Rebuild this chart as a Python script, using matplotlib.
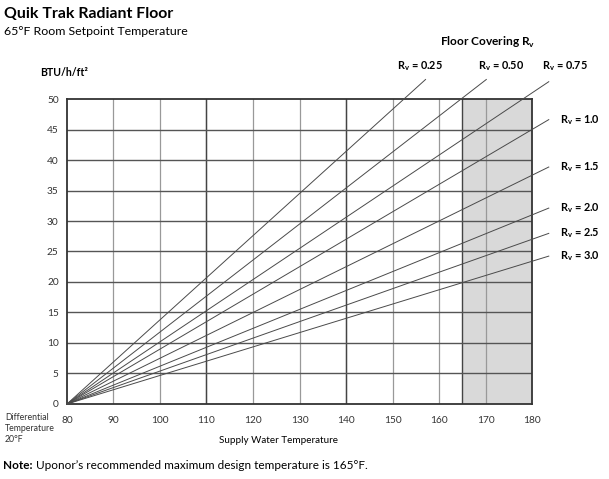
import numpy as np
import matplotlib
matplotlib.use("Agg")
import matplotlib.pyplot as plt

plt.rcParams["font.family"] = ["Lato", "DejaVu Sans"]
plt.rcParams["mathtext.fontset"] = "custom"
plt.rcParams["mathtext.rm"] = "Lato"
plt.rcParams["mathtext.bf"] = "Lato:bold"

# Floor covering R-values and heat output (BTU/h/ft2) at 180F supply water
R_VALUES = ["0.25", "0.50", "0.75", "1.0", "1.5", "2.0", "2.5", "3.0"]
OUTPUT_AT_180 = [69.0, 59.0, 51.0, 45.0, 37.5, 31.0, 27.0, 23.4]

X_TICKS = [80, 90, 100, 110, 120, 130, 140, 150, 160, 170, 180]
Y_TICKS = [0, 5, 10, 15, 20, 25, 30, 35, 40, 45, 50]
HEAVY_X = [110, 140, 165]
MAX_DESIGN_TEMP = 165

X_START = 80
X_END = 180

# layout of lines running outside the plot box
LINE_TOP = 53.2
LINE_RIGHT = 183.6
TOP_LABEL_X = {"0.25": 155.9, "0.50": 173.3, "0.75": 187.1}
TOP_LABEL_Y = 54.3
SIDE_LABEL_X = 186.0

GRID_DARK = "#444444"
GRID_MID = "#555555"
GRID_LIGHT = "#999999"
LINE_COLOR = "#4a4a4a"
SHADE_COLOR = "#d9d9d9"

fig = plt.figure(figsize=(6.09, 4.79), dpi=100)
ax = fig.add_axes([0.110, 0.1566, 0.7636, 0.6367])

ax.set_xlim(X_START, X_END)
ax.set_ylim(0, 50)

ax.axvspan(MAX_DESIGN_TEMP, X_END, color=SHADE_COLOR, zorder=0, lw=0)

for x in X_TICKS[1:-1]:
    ax.axvline(x, color=GRID_LIGHT, lw=0.9, zorder=1)
for x in HEAVY_X:
    ax.axvline(x, color=GRID_DARK, lw=1.0, zorder=1.5)
for y in Y_TICKS[1:-1]:
    ax.axhline(y, color=GRID_MID, lw=1.0, zorder=1.5)

for spine in ax.spines.values():
    spine.set_color("#333333")
    spine.set_linewidth(1.3)

for rv, out in zip(R_VALUES, OUTPUT_AT_180):
    slope = out / (X_END - X_START)
    x_end = min(LINE_RIGHT, X_START + LINE_TOP / slope)
    xs = np.array([X_START, x_end])
    ys = slope * (xs - X_START)
    ax.plot(xs, ys, color=LINE_COLOR, lw=0.7, clip_on=False, zorder=3)
    label = r"R$_\mathregular{v}$ = " + rv
    if rv in TOP_LABEL_X:
        ax.text(TOP_LABEL_X[rv], TOP_LABEL_Y, label, ha="center", va="bottom",
                fontsize=7.8, fontweight="bold")
    else:
        ax.text(SIDE_LABEL_X, ys[-1], label, ha="left", va="center",
                fontsize=7.8, fontweight="bold")

ax.set_xticks(X_TICKS)
ax.set_yticks(Y_TICKS)
ax.tick_params(length=0, labelsize=7.3, colors="#333333", pad=6)
ax.tick_params(axis="x", pad=9)

fig.text(0.006, 0.985, "Quik Trak Radiant Floor", fontsize=11.4, fontweight="bold",
         ha="left", va="top")
fig.text(0.006, 0.945, "65°F Room Setpoint Temperature", fontsize=8.9,
         ha="left", va="top")
fig.text(0.066, 0.848, "BTU/h/ft²", fontsize=7.6, fontweight="bold",
         ha="left", va="center")
fig.text(0.800, 0.912, r"Floor Covering R$_\mathregular{v}$", fontsize=8.6,
         fontweight="bold", ha="center", va="center")
fig.text(0.008, 0.138, "Differential\nTemperature\n20°F", fontsize=6.3,
         family=["Liberation Sans Narrow", "Lato"], color="#333333",
         ha="left", va="top", linespacing=1.3)
fig.text(0.458, 0.081, "Supply Water Temperature", fontsize=7.1,
         ha="center", va="center")

# bold "Note:" followed by the regular sentence
note = fig.text(0.005, 0.028, "Note:", fontsize=8.5, fontweight="bold",
                ha="left", va="center")
ax.annotate(" Uponor’s recommended maximum design temperature is 165°F.",
            xy=(1, 0.5), xycoords=note, fontsize=8.5, ha="left", va="center")

fig.savefig("out.png", dpi=100, facecolor="white")
